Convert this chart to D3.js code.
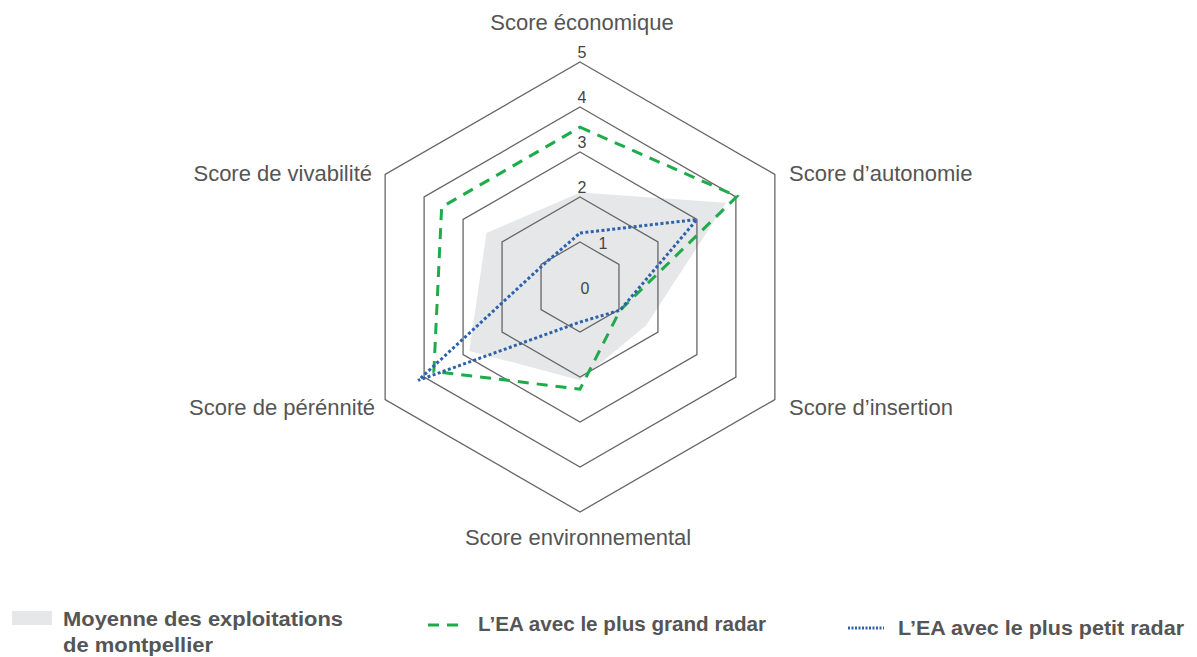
<!DOCTYPE html>
<html>
<head>
<meta charset="utf-8">
<script src="https://cdn.jsdelivr.net/npm/d3@7"></script>
<style>
  body { margin: 0; background: #fff; }
  svg text { font-family: "Liberation Sans", Arial, sans-serif; }
</style>
</head>
<body>
<div id="chart"></div>
<script>
// Data
let axes = ["Score économique", "Score d’autonomie", "Score d’insertion",
  "Score environnemental", "Score de pérénnité", "Score de vivabilité"];
let moyenne = [2.1, 3.75, 1.7, 2.07, 2.84, 2.4];
let grandRadar = [3.55, 4.03, 1.03, 2.27, 3.75, 3.55];
let petitRadar = [1.2, 3.0, 1.03, 0.78, 4.15, 0.96];
let levels = [0, 1, 2, 3, 4, 5];
let legendLabels = [["Moyenne des exploitations", "de montpellier"],
  ["L’EA avec le plus grand radar"], ["L’EA avec le plus petit radar"]];

let width = 1197, height = 657;
let cx = 580, cy = 287;

let svg = d3.select("#chart").append("svg")
  .attr("width", width)
  .attr("height", height);

let r = d3.scaleLinear().domain([0, 5]).range([0, 225]);
let angle = function (i) { return i * Math.PI * 2 / axes.length; };
let pt = function (v, i) {
  return [cx + r(v) * Math.sin(angle(i)), cy - r(v) * Math.cos(angle(i))];
};
let line = d3.line().curve(d3.curveLinearClosed);

// grey average area (under the grid)
svg.append("path")
  .attr("d", line(moyenne.map(pt)))
  .attr("fill", "#e6e7e8");

// hexagon grid
svg.selectAll(".grid")
  .data(levels.slice(1))
  .enter().append("path")
  .attr("class", "grid")
  .attr("d", function (l) { return line(axes.map(function (a, i) { return pt(l, i); })); })
  .attr("fill", "none")
  .attr("stroke", "#666")
  .attr("stroke-width", 1.3);

// level labels
svg.selectAll(".lvl")
  .data(levels)
  .enter().append("text")
  .attr("class", "lvl")
  .attr("x", function (l) { return l == 0 ? cx + 5 : (l == 1 ? cx + 23 : cx + 2); })
  .attr("y", function (l) { return l == 0 ? cy + 7 : (l == 1 ? cy - r(l) + 7 : cy - r(l) - 4); })
  .attr("text-anchor", "middle")
  .attr("font-size", 16)
  .attr("fill", "#444")
  .text(function (l) { return l; });

// series
svg.append("path")
  .attr("d", line(grandRadar.map(pt)))
  .attr("fill", "none")
  .attr("stroke", "#1eab4b")
  .attr("stroke-width", 3)
  .attr("stroke-dasharray", "11 8");

svg.append("path")
  .attr("d", line(petitRadar.map(pt)))
  .attr("fill", "none")
  .attr("stroke", "#2d62ab")
  .attr("stroke-width", 3)
  .attr("stroke-dasharray", "3 2.4");

// axis labels
let labelPos = [
  {x: cx + 2, y: 30, a: "middle"},
  {x: 789, y: 181, a: "start"},
  {x: 789, y: 415, a: "start"},
  {x: cx - 2, y: 545, a: "middle"},
  {x: 375, y: 415, a: "end"},
  {x: 372, y: 181, a: "end"}
];
svg.selectAll(".axlabel")
  .data(axes)
  .enter().append("text")
  .attr("class", "axlabel")
  .attr("x", function (d, i) { return labelPos[i].x; })
  .attr("y", function (d, i) { return labelPos[i].y; })
  .attr("text-anchor", function (d, i) { return labelPos[i].a; })
  .attr("font-size", 22)
  .attr("fill", "#555")
  .text(function (d) { return d; });

// legend
let lg = svg.append("g");
lg.append("rect").attr("x", 12).attr("y", 611).attr("width", 40).attr("height", 14).attr("fill", "#e6e7e8");
lg.append("line").attr("x1", 428).attr("x2", 462).attr("y1", 625).attr("y2", 625)
  .attr("stroke", "#1eab4b").attr("stroke-width", 3).attr("stroke-dasharray", "11 8");
lg.append("line").attr("x1", 848).attr("x2", 884).attr("y1", 628).attr("y2", 628)
  .attr("stroke", "#2d62ab").attr("stroke-width", 3).attr("stroke-dasharray", "2 1.5");

let legendPos = [{x: 63, y: 626, w: [280, 150]}, {x: 478, y: 631, w: [288]}, {x: 898, y: 635, w: [286]}];
legendLabels.forEach(function (lines, k) {
  lines.forEach(function (s, j) {
    lg.append("text")
      .attr("x", legendPos[k].x)
      .attr("y", legendPos[k].y + j * 26)
      .attr("font-size", 20)
      .attr("font-weight", "bold")
      .attr("fill", "#555")
      .attr("textLength", legendPos[k].w[j])
      .attr("lengthAdjust", "spacingAndGlyphs")
      .text(s);
  });
});
</script>
</body>
</html>
